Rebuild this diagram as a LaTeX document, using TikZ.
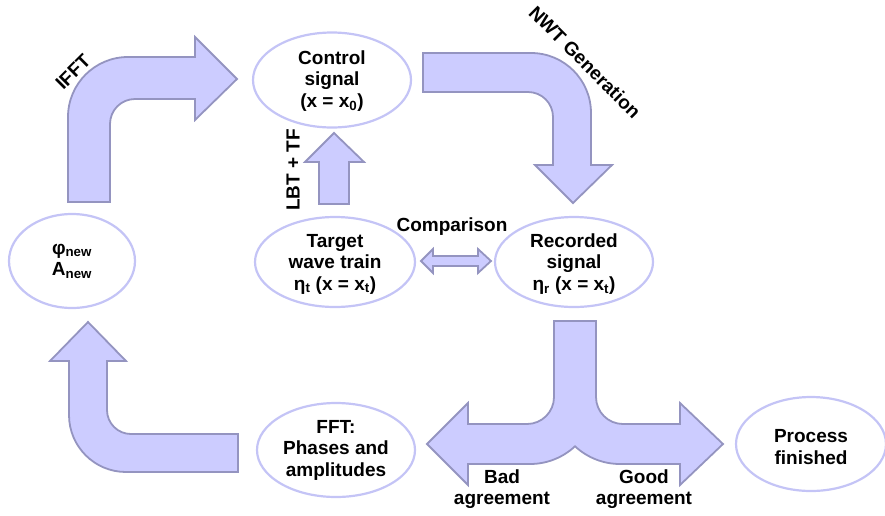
\documentclass[tikz,border=0pt]{standalone}
\usepackage{fontspec}
\setmainfont{Liberation Sans}
\usetikzlibrary{shapes.geometric}
\definecolor{arrfill}{RGB}{204,204,255}
\definecolor{arrline}{RGB}{148,148,192}
\definecolor{ellline}{RGB}{196,196,246}
\begin{document}
\begin{tikzpicture}[x=1pt,y=-1pt,
  fat/.style={fill=arrfill,draw=arrline,line width=1.8pt,line join=miter},
  ell/.style={ellipse,draw=ellline,line width=2.2pt,fill=white,inner sep=0pt},
  txt/.style={font=\fontsize{19}{21.5}\selectfont\bfseries,align=center,inner sep=0pt}]
\useasboundingbox (0,0) rectangle (885,515);
% ellipses
\node[ell,minimum width=158pt,minimum height=95pt] (ctrl) at (332,80) {};
\node[ell,minimum width=126pt,minimum height=94pt] (phi) at (72,261) {};
\node[ell,minimum width=160pt,minimum height=90pt] (target) at (335,262) {};
\node[ell,minimum width=158pt,minimum height=90pt] (rec) at (574,262) {};
\node[ell,minimum width=158pt,minimum height=94pt] (fft) at (336,450) {};
\node[ell,minimum width=150pt,minimum height=94pt] (proc) at (811,444) {};
% texts in ellipses
\node[txt] (ctrlT) at ([yshift=-1pt]ctrl.center) {Control\\signal\\(x = x\textsubscript{0})};
\node[txt] (phiT) at (phi.center) {φ\textsubscript{new}\\A\textsubscript{new}};
\node[txt] (targetT) at ([yshift=-2pt]target.center) {Target\\wave train\\η\textsubscript{t} (x = x\textsubscript{t})};
\node[txt] (recT) at ([yshift=-2pt]rec.center) {Recorded\\signal\\η\textsubscript{r} (x = x\textsubscript{t})};
\node[txt] (fftT) at (fft.center) {FFT:\\Phases and\\amplitudes};
\node[txt] (procT) at ([yshift=-3pt]proc.center) {Process\\finished};
% IFFT bent arrow
\draw[fat] (68,202) -- (68,117) arc[start angle=180,end angle=90,radius=60pt]
  -- (195,57) -- (195,37) -- (237,79) -- (195,120) -- (195,99) -- (135,99)
  arc[start angle=90,end angle=180,radius=25pt] -- (110,202) -- cycle;
% NWT bent arrow
\draw[fat] (423,53) -- (531,53) arc[start angle=90,end angle=0,radius=60pt]
  -- (591,165) -- (612,165) -- (573,203) -- (535,165) -- (553,165) -- (553,117)
  arc[start angle=0,end angle=90,radius=25pt] -- (423,92) -- cycle;
% LBT arrow
\draw[fat] (319,204) -- (319,162) -- (305,162) -- (334,133) -- (364,162) -- (349,162) -- (349,204) -- cycle;
% comparison double arrow
\draw[fat] (421,261) -- (433,249) -- (433,256) -- (478,256) -- (478,249) -- (491,261)
  -- (478,273) -- (478,266) -- (433,266) -- (433,273) -- cycle;
% bottom-left bent arrow
\draw[fat] (88,322) -- (126,361) -- (107,361) -- (107,410)
  arc[start angle=180,end angle=270,radius=24pt] -- (238,434) -- (238,472) -- (126,472)
  arc[start angle=270,end angle=180,radius=57pt] -- (69,361) -- (50,361) -- cycle;
% fork arrow
\draw[fat] (554,321) -- (554,397) arc[start angle=0,end angle=-90,radius=27pt]
  -- (468,424) -- (468,403) -- (427,444) -- (468,485) -- (468,464) -- (530,464)
  arc[start angle=-90,end angle=-47,radius=66pt]
  arc[start angle=-133,end angle=-90,radius=66pt]
  -- (680,464) -- (680,485) -- (723,444) -- (680,403) -- (680,424) -- (623,424)
  arc[start angle=-90,end angle=-180,radius=27pt] -- (596,321) -- cycle;
% labels
\node[txt,rotate=45] (ifft) at (73,72) {IFFT};
\node[txt,rotate=-45] (nwt) at (585,62) {NWT Generation};
\node[txt,rotate=90] (lbt) at (293,170) {LBT + TF};
\node[txt] (cmp) at (452,227) {Comparison};
\node[txt] (bad) at (502,489) {Bad\\agreement};
\node[txt] (good) at (644,489) {Good\\agreement};
\end{tikzpicture}
\end{document}
